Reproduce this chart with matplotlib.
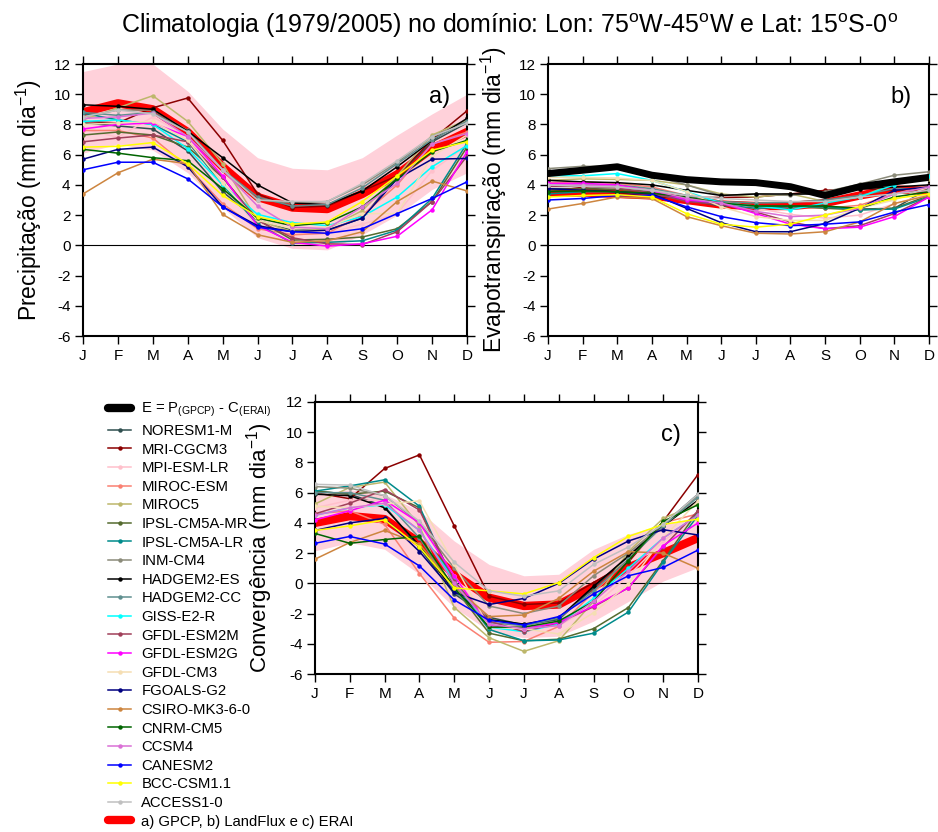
import matplotlib
matplotlib.use("Agg")
import matplotlib.pyplot as plt
from matplotlib.lines import Line2D
import numpy as np

plt.rcParams['font.family'] = ['Liberation Sans', 'DejaVu Sans']
plt.rcParams['mathtext.fontset'] = 'custom'
plt.rcParams['mathtext.rm'] = 'Liberation Sans'
plt.rcParams['mathtext.it'] = 'Liberation Sans'
plt.rcParams['axes.unicode_minus'] = False

months = ["J", "F", "M", "A", "M", "J", "J", "A", "S", "O", "N", "D"]

models = ["NORESM1-M", "MRI-CGCM3", "MPI-ESM-LR", "MIROC-ESM", "MIROC5",
          "IPSL-CM5A-MR", "IPSL-CM5A-LR", "INM-CM4", "HADGEM2-ES", "HADGEM2-CC",
          "GISS-E2-R", "GFDL-ESM2M", "GFDL-ESM2G", "GFDL-CM3", "FGOALS-G2",
          "CSIRO-MK3-6-0", "CNRM-CM5", "CCSM4", "CANESM2", "BCC-CSM1.1", "ACCESS1-0"]
colors = ["#2F4F4F", "#8B0000", "#FFC0CB", "#FA8072", "#BDB76B",
          "#556B2F", "#008B8B", "#8B8B7A", "#000000", "#5F8F8F",
          "#00FFFF", "#A0405A", "#FF00FF", "#F5DEB3", "#000080",
          "#CD853F", "#006400", "#DA70D6", "#0000FF", "#FFFF00", "#C0C0C0"]

# ---------------- Panel a: precipitation ----------------
prec_obs = [8.8, 9.4, 9.0, 7.5, 5.2, 3.2, 2.5, 2.4, 3.4, 4.7, 6.4, 7.5]
prec_hi = [11.5, 12.0, 12.0, 10.2, 7.7, 5.8, 5.1, 5.0, 5.8, 7.3, 8.7, 10.0]
prec_lo = [6.1, 6.7, 6.3, 4.8, 2.5, 0.5, -0.2, -0.3, 0.7, 2.0, 3.7, 4.8]
prec_models = {
    "NORESM1-M":    [8.1, 7.9, 7.7, 6.25, 3.55, 1.65, 1.0, 1.0, 1.8, 4.6, 6.85, 8.1],
    "MRI-CGCM3":    [8.2, 8.1, 9.1, 9.75, 6.95, 3.4, 2.5, 2.6, 3.6, 4.6, 7.0, 8.9],
    "MPI-ESM-LR":   [7.7, 7.15, 8.5, 7.2, 4.1, 1.2, 0.7, 0.8, 1.4, 2.1, 4.95, 6.6],
    "MIROC-ESM":    [7.6, 7.6, 7.1, 5.2, 2.75, 1.1, 0.7, 0.8, 2.0, 4.0, 6.7, 7.5],
    "MIROC5":       [8.3, 9.1, 9.9, 8.2, 5.4, 1.65, 0.9, 1.1, 2.3, 4.6, 7.3, 8.3],
    "IPSL-CM5A-MR": [7.3, 7.5, 7.3, 6.5, 4.5, 1.7, 0.35, 0.4, 0.55, 1.1, 2.9, 6.5],
    "IPSL-CM5A-LR": [8.75, 8.3, 8.0, 6.85, 4.0, 1.4, 0.15, 0.2, 0.3, 1.0, 3.1, 6.75],
    "INM-CM4":      [8.5, 8.95, 8.95, 7.6, 5.0, 3.0, 2.8, 2.9, 4.0, 5.5, 7.2, 8.2],
    "HADGEM2-ES":   [9.3, 9.2, 9.0, 7.55, 5.8, 4.0, 2.8, 2.7, 3.6, 5.2, 6.95, 8.4],
    "HADGEM2-CC":   [8.8, 8.6, 8.8, 7.5, 5.0, 3.2, 2.6, 2.7, 3.8, 5.4, 7.0, 8.2],
    "GISS-E2-R":    [8.2, 8.3, 8.0, 6.4, 4.0, 2.05, 1.5, 1.3, 1.9, 3.2, 5.2, 6.6],
    "GFDL-ESM2M":   [6.85, 7.1, 7.3, 6.85, 4.5, 1.65, 0.5, 0.1, 0.05, 0.9, 2.9, 5.9],
    "GFDL-ESM2G":   [7.7, 8.0, 8.1, 7.2, 4.6, 1.3, 0.2, -0.05, 0.1, 0.6, 2.35, 6.2],
    "GFDL-CM3":     [8.0, 8.1, 8.2, 6.95, 4.1, 1.65, 1.1, 1.2, 2.1, 2.1, 5.9, 7.3],
    "FGOALS-G2":    [5.7, 6.35, 6.5, 5.2, 2.55, 1.3, 0.9, 1.0, 1.8, 4.4, 5.7, 5.75],
    "CSIRO-MK3-6-0":[3.4, 4.8, 5.7, 5.4, 2.05, 0.7, 0.2, 0.3, 0.9, 2.9, 4.25, 3.6],
    "CNRM-CM5":     [6.35, 6.1, 5.8, 5.6, 3.75, 1.8, 1.3, 1.5, 2.55, 4.4, 6.2, 6.95],
    "CCSM4":        [8.4, 8.5, 8.75, 7.2, 5.0, 2.6, 1.2, 1.1, 2.55, 4.1, 6.7, 7.4],
    "CANESM2":      [5.0, 5.5, 5.5, 4.4, 2.55, 1.2, 0.9, 0.8, 1.1, 2.1, 3.1, 4.2],
    "BCC-CSM1.1":   [6.5, 6.55, 6.8, 5.4, 3.3, 1.9, 1.4, 1.55, 2.9, 4.6, 6.3, 6.85],
    "ACCESS1-0":    [8.5, 8.95, 8.7, 7.5, 5.0, 3.0, 2.9, 2.9, 4.1, 5.6, 7.2, 8.1],
}

# ---------------- Panel b: evapotranspiration ----------------
evap_e = [4.75, 4.97, 5.2, 4.64, 4.35, 4.2, 4.15, 3.88, 3.3, 3.88, 4.2, 4.5]
evap_obs = [3.5, 3.5, 3.4, 3.3, 3.0, 2.7, 2.6, 2.6, 2.8, 3.3, 3.7, 3.6]
evap_models = {
    "NORESM1-M":    [3.75, 3.75, 3.86, 3.64, 3.0, 2.6, 2.55, 2.6, 2.55, 2.4, 2.45, 3.75],
    "MRI-CGCM3":    [3.55, 3.84, 3.5, 3.2, 3.17, 3.17, 3.2, 3.4, 3.64, 3.75, 3.64, 3.55],
    "MPI-ESM-LR":   [4.0, 4.1, 4.0, 3.75, 3.2, 2.8, 2.45, 2.05, 1.8, 2.0, 2.75, 3.4],
    "MIROC-ESM":    [4.15, 4.2, 4.1, 3.86, 3.3, 2.9, 2.55, 2.55, 2.45, 2.65, 3.4, 4.0],
    "MIROC5":       [4.3, 4.4, 4.36, 4.3, 4.0, 3.4, 3.2, 3.4, 2.9, 3.2, 4.1, 4.4],
    "IPSL-CM5A-MR": [3.65, 3.75, 3.7, 3.55, 3.1, 2.8, 2.6, 2.6, 2.45, 2.35, 2.45, 3.3],
    "IPSL-CM5A-LR": [3.4, 3.55, 3.55, 3.4, 3.0, 2.7, 2.45, 2.55, 2.55, 2.35, 2.4, 3.2],
    "INM-CM4":      [5.08, 5.23, 5.23, 4.6, 4.0, 3.3, 3.4, 3.3, 3.55, 4.05, 4.64, 4.87],
    "HADGEM2-ES":   [4.3, 4.2, 4.15, 4.0, 3.64, 3.3, 3.4, 3.4, 3.4, 3.75, 3.86, 4.0],
    "HADGEM2-CC":   [3.9, 4.0, 4.0, 3.75, 3.3, 2.9, 2.8, 2.85, 3.0, 3.3, 3.75, 3.75],
    "GISS-E2-R":    [4.6, 4.6, 4.75, 4.3, 3.55, 2.8, 2.6, 2.35, 2.8, 3.2, 4.0, 4.6],
    "GFDL-ESM2M":   [3.9, 3.9, 3.8, 3.45, 2.9, 2.7, 2.2, 1.55, 1.1, 1.3, 2.1, 3.2],
    "GFDL-ESM2G":   [4.1, 4.1, 4.0, 3.6, 3.0, 2.8, 2.1, 1.4, 1.1, 1.2, 1.9, 3.2],
    "GFDL-CM3":     [4.5, 4.5, 4.45, 4.3, 3.55, 2.55, 1.9, 1.65, 1.65, 2.45, 3.0, 3.86],
    "FGOALS-G2":    [3.75, 3.64, 3.55, 3.4, 2.45, 1.5, 0.9, 0.9, 1.45, 2.45, 3.64, 3.86],
    "CSIRO-MK3-6-0":[2.4, 2.77, 3.2, 3.1, 1.9, 1.3, 0.8, 0.75, 0.9, 1.55, 2.77, 3.3],
    "CNRM-CM5":     [3.55, 3.6, 3.55, 3.45, 3.2, 2.8, 2.6, 2.6, 2.6, 2.45, 3.2, 3.55],
    "CCSM4":        [4.0, 4.0, 3.9, 3.64, 3.1, 2.8, 2.25, 1.9, 2.0, 2.45, 3.4, 3.86],
    "CANESM2":      [3.0, 3.1, 3.3, 3.3, 2.55, 1.9, 1.5, 1.3, 1.4, 1.55, 2.2, 2.7],
    "BCC-CSM1.1":   [3.2, 3.3, 3.35, 3.2, 2.1, 1.4, 1.2, 1.4, 2.0, 2.55, 3.1, 3.4],
    "ACCESS1-0":    [4.0, 3.9, 3.86, 3.64, 3.3, 3.1, 3.0, 2.9, 2.9, 3.2, 3.4, 3.64],
}

# ---------------- Panel c: convergence ----------------
conv_obs = [4.0, 4.45, 4.25, 2.7, 0.6, -0.95, -1.5, -1.4, -0.2, 1.05, 2.0, 3.0]
conv_hi = [5.9, 6.2, 5.9, 4.8, 2.8, 1.25, 0.5, 0.6, 2.25, 3.25, 3.9, 4.4]
conv_lo = [2.15, 2.7, 2.25, 0.6, -1.6, -3.15, -3.6, -3.5, -2.5, -1.2, 0.15, 1.05]
conv_models = {
    "NORESM1-M":    [6.1, 5.9, 5.1, 2.35, -0.7, -2.25, -2.75, -2.4, -0.3, 1.8, 3.9, 5.9],
    "MRI-CGCM3":    [6.0, 5.6, 7.6, 8.5, 3.8, -0.85, -1.4, -1.3, 0.05, 1.4, 4.1, 7.2],
    "MPI-ESM-LR":   [5.0, 5.5, 5.5, 4.0, 0.5, -2.5, -3.0, -2.8, -1.5, 0.5, 2.8, 4.5],
    "MIROC-ESM":    [4.6, 4.8, 3.9, 0.65, -2.3, -3.9, -3.85, -2.85, -0.6, 1.6, 4.0, 4.6],
    "MIROC5":       [5.25, 6.35, 6.7, 3.8, -1.6, -3.6, -4.5, -3.8, -1.2, 2.1, 4.3, 5.25],
    "IPSL-CM5A-MR": [6.1, 5.9, 6.1, 5.0, -0.3, -3.3, -3.8, -3.7, -3.0, -1.6, 1.5, 4.8],
    "IPSL-CM5A-LR": [6.1, 6.45, 6.85, 5.1, -0.05, -3.05, -3.8, -3.75, -3.3, -1.9, 1.4, 4.5],
    "INM-CM4":      [6.4, 6.3, 5.8, 4.0, 1.0, -1.5, -2.0, -1.5, 0.5, 2.0, 3.9, 5.8],
    "HADGEM2-ES":   [5.9, 5.8, 5.0, 2.5, -0.5, -2.4, -2.7, -2.3, -0.2, 1.8, 3.8, 5.5],
    "HADGEM2-CC":   [6.0, 6.0, 5.5, 3.0, -0.5, -2.6, -2.8, -2.3, -0.5, 1.6, 3.8, 5.7],
    "GISS-E2-R":    [4.5, 5.0, 5.2, 3.5, 0.2, -2.9, -3.2, -2.7, -1.0, 1.0, 3.0, 4.5],
    "GFDL-ESM2M":   [4.6, 5.3, 6.2, 4.85, 0.15, -2.5, -3.2, -2.6, -1.55, -0.3, 2.4, 4.8],
    "GFDL-ESM2G":   [4.2, 4.8, 5.5, 4.0, 0.5, -2.8, -3.0, -2.6, -1.5, -0.3, 2.5, 4.0],
    "GFDL-CM3":     [5.1, 5.0, 5.25, 5.45, 1.25, -2.9, -3.0, -3.35, -1.95, -0.05, 3.0, 5.45],
    "FGOALS-G2":    [3.5, 4.0, 4.3, 2.1, -0.6, -1.4, -1.0, 0.0, 1.6, 2.8, 3.55, 3.2],
    "CSIRO-MK3-6-0":[1.6, 2.7, 3.5, 2.6, -0.2, -2.2, -2.1, -1.0, 0.8, 2.1, 2.0, 1.0],
    "CNRM-CM5":     [3.3, 2.65, 2.9, 3.1, -0.3, -2.9, -2.9, -2.5, -1.2, 1.5, 4.1, 5.2],
    "CCSM4":        [4.5, 5.0, 5.3, 3.5, 0.0, -2.7, -3.0, -2.8, -1.2, 0.8, 3.0, 4.5],
    "CANESM2":      [2.65, 3.1, 2.6, 1.15, -1.1, -2.45, -2.75, -2.2, -0.7, 0.5, 1.05, 2.2],
    "BCC-CSM1.1":   [3.5, 3.8, 4.2, 2.4, -0.3, -0.5, -0.7, 0.05, 1.7, 3.1, 3.9, 4.25],
    "ACCESS1-0":    [6.55, 6.5, 5.8, 4.1, 1.4, -0.5, -0.85, -0.5, 1.25, 2.4, 3.9, 5.9],
}

W, H = 938, 832
fig = plt.figure(figsize=(W / 100, H / 100), dpi=100)

def fr(x0, y0, x1, y1):
    return [x0 / W, 1 - y1 / H, (x1 - x0) / W, (y1 - y0) / H]

ax_a = fig.add_axes(fr(83, 64, 467, 336))
ax_b = fig.add_axes(fr(548, 64, 929, 336))
ax_c = fig.add_axes(fr(315, 402, 698, 674))

x = np.arange(12)
LW = 1.1
MS = 3.2

def style(ax, label, tag, fs=16.5):
    ax.set_xlim(0, 11)
    ax.set_ylim(-6, 12)
    ax.set_xticks(x)
    ax.set_xticklabels(months)
    ax.set_yticks(np.arange(-6, 13, 2))
    ax.tick_params(axis='both', which='both', direction='out', length=6,
                   width=1.0, labelsize=11, top=True, right=True, pad=3)
    for s in ax.spines.values():
        s.set_linewidth(1.5)
    ax.axhline(0, color='black', lw=0.8, zorder=1)
    ax.set_ylabel(label + " (mm dia$^{-1}$)", fontsize=fs, labelpad=7)
    ax.text(0.955, 0.88, tag, transform=ax.transAxes, fontsize=17,
            ha='right', va='center')

def draw(ax, obs, mods, lo=None, hi=None, e=None):
    if lo is not None:
        ax.fill_between(x, lo, hi, color='#FFD1DA', lw=0, zorder=0.5)
    ax.plot(x, obs, color='red', lw=6, solid_capstyle='round', zorder=2)
    for i, m in enumerate(models):
        ax.plot(x, mods[m], color=colors[i], lw=LW, marker='o', ms=MS,
                mew=0, zorder=3)
    if e is not None:
        ax.plot(x, e, color='black', lw=5, solid_capstyle='round', zorder=4)

draw(ax_a, prec_obs, prec_models, prec_lo, prec_hi)
style(ax_a, "Precipitação", "a)")
draw(ax_b, evap_obs, evap_models, e=evap_e)
style(ax_b, "Evapotranspiração", "b)")
draw(ax_c, conv_obs, conv_models, conv_lo, conv_hi)
style(ax_c, "Convergência", "c)", fs=16)
ax_c.yaxis.set_label_coords(-0.105, 0.465)

fig.text(510 / W, 1 - 26 / H,
         "Climatologia (1979/2005) no domínio: Lon: 75$^{\\mathrm{o}}$W-45$^{\\mathrm{o}}$W e Lat: 15$^{\\mathrm{o}}$S-0$^{\\mathrm{o}}$",
         ha='center', va='center', fontsize=18)

handles = [Line2D([], [], color='black', lw=6, solid_capstyle='round')]
labels = ["E = P$_{(GPCP)}$ - C$_{(ERAI)}$"]
for i, m in enumerate(models):
    handles.append(Line2D([], [], color=colors[i], lw=LW, marker='o', ms=MS, mew=0))
    labels.append(m)
handles.append(Line2D([], [], color='red', lw=6, solid_capstyle='round'))
labels.append("a) GPCP, b) LandFlux e c) ERAI")

fig.legend(handles, labels, loc='upper left', bbox_to_anchor=(108 / W, 1 - 401 / H),
           frameon=False, fontsize=10.7, handlelength=1.55, handletextpad=0.7,
           labelspacing=0.31, borderpad=0, borderaxespad=0)

fig.savefig("out.png", dpi=100)
